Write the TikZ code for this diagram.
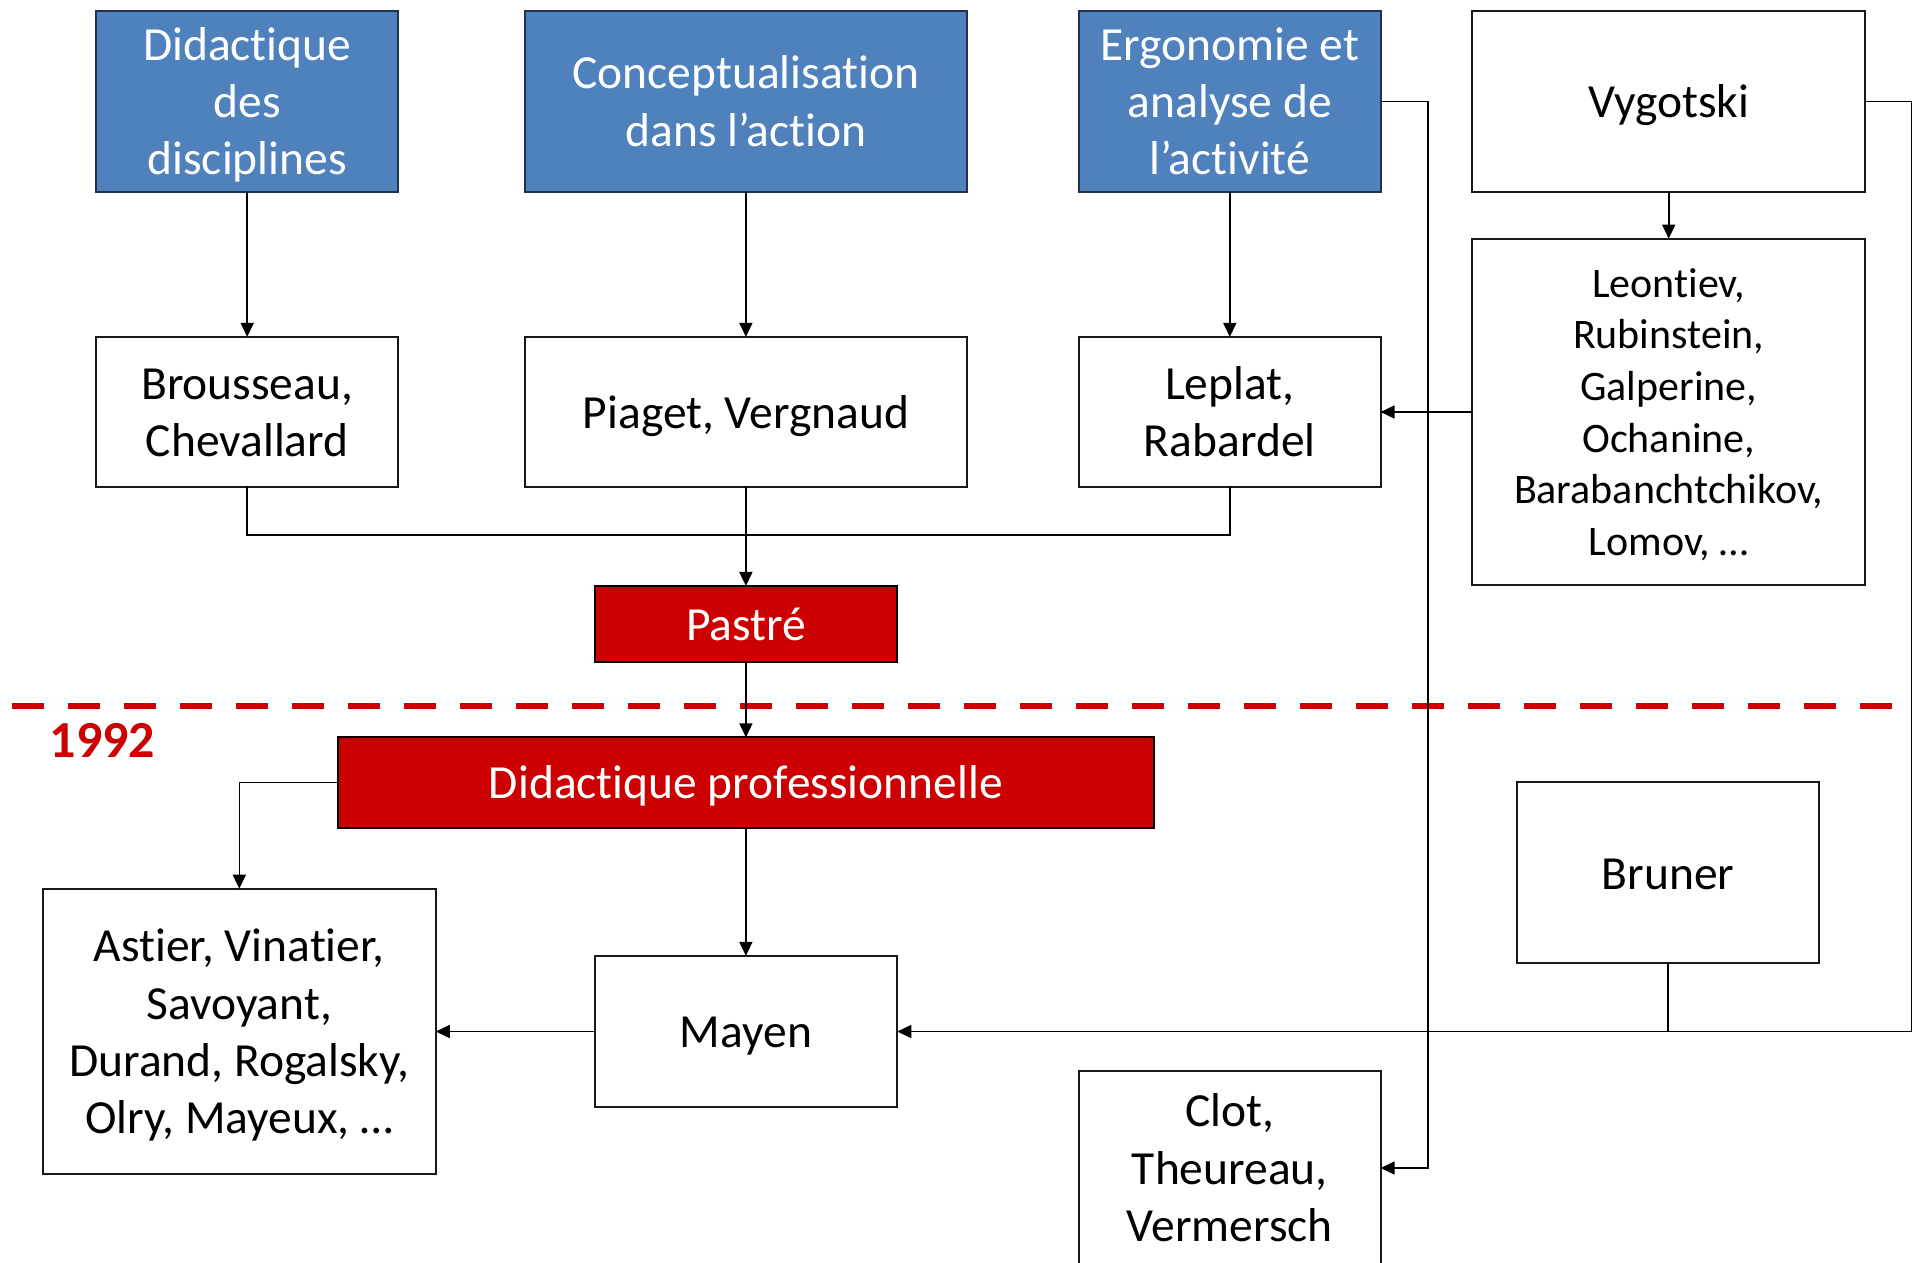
\documentclass[tikz,border=0pt]{standalone}
\usepackage{fontspec}
\setmainfont{Carlito}[Ligatures=NoCommon]
\usetikzlibrary{arrows.meta}
\definecolor{boxblue}{HTML}{4F81BD}
\definecolor{blueedge}{HTML}{1F3350}
\definecolor{boxred}{HTML}{CC0000}
\newcommand{\topstrut}{\rule{0pt}{0.952em}}
\newcommand{\botstrut}{\rule[-0.269em]{0pt}{0pt}}
\begin{document}
\begin{tikzpicture}[x=1pt,y=-1pt,
  every node/.style={align=center,inner sep=0pt,outer sep=0pt,font=\fontsize{47.5}{57.4}\selectfont},
  bluebox/.style={draw=blueedge,line width=2pt,fill=boxblue,text=white},
  redbox/.style={draw=black,line width=2pt,fill=boxred,text=white},
  whitebox/.style={draw=black!90,line width=2pt,fill=white},
  arr/.style={-{Triangle[length=14pt,width=13pt]},line width=1.6pt},
  link/.style={line width=1.6pt}]
\useasboundingbox (0,0) rectangle (1914,1262);
\fill[white] (0,0) rectangle (1914,1262);
\node[bluebox,minimum width=301.5pt,minimum height=180.7pt] (didac) at (247.2,101.3) {\topstrut Didactique\\des\\disciplines\botstrut};
\node[bluebox,minimum width=441.9pt,minimum height=180.7pt] (concept) at (745.9,101.3) {\topstrut Conceptualisation\\dans l’action\botstrut};
\node[bluebox,minimum width=301.5pt,minimum height=180.7pt] (ergo) at (1229.8,101.3) {\topstrut Ergonomie et\\analyse de\\l’activité\botstrut};
\node[whitebox,minimum width=393pt,minimum height=180.7pt] (vygotski) at (1668.7,101.3) {\topstrut Vygotski\botstrut};
\node[whitebox,minimum width=301.5pt,minimum height=150.2pt] (brousseau) at (247.2,412) {\topstrut Brousseau,\\Chevallard\botstrut};
\node[whitebox,minimum width=441.9pt,minimum height=150.2pt] (piaget) at (745.9,412) {\topstrut Piaget, Vergnaud\botstrut};
\node[whitebox,minimum width=301.5pt,minimum height=150.2pt] (leplat) at (1229.8,412) {\topstrut Leplat,\\Rabardel\botstrut};
\node[whitebox,minimum width=393pt,minimum height=346.7pt,font=\fontsize{42}{51.6}\selectfont] (leontiev) at (1668.7,412) {\topstrut Leontiev,\\Rubinstein,\\Galperine,\\Ochanine,\\Barabanchtchikov,\\Lomov, …\botstrut};
\node[redbox,minimum width=302.7pt,minimum height=75.7pt] (pastre) at (745.9,623.8) {\topstrut Pastré\botstrut};
\node[redbox,minimum width=815.4pt,minimum height=90.3pt] (didpro) at (745.9,782.5) {\topstrut Didactique professionnelle\botstrut};
\node[whitebox,minimum width=393pt,minimum height=285.6pt] (astier) at (239.3,1031.5) {\topstrut Astier, Vinatier,\\Savoyant,\\Durand, Rogalsky,\\Olry, Mayeux, …\botstrut};
\node[whitebox,minimum width=302.7pt,minimum height=151.4pt] (mayen) at (745.9,1031.5) {\topstrut Mayen\botstrut};
\node[whitebox,minimum width=301.5pt,minimum height=180.7pt] (bruner) at (1668,872.8) {\topstrut Bruner\botstrut};
\node[whitebox,minimum width=301.5pt,minimum height=195pt] (clot) at (1229.8,1168) {\topstrut Clot,\\Theureau,\\Vermersch\botstrut};
\node[text=boxred,font=\fontsize{52}{60}\selectfont\bfseries] (year) at (102.5,740) {1992};
\coordinate (join) at (745.9,534.7);
\draw[boxred,line width=6pt,dash pattern=on 32pt off 24pt] (12,705.6) -- (1894.5,705.6);
\draw[arr] (didac) -- (brousseau);
\draw[arr] (concept) -- (piaget);
\draw[arr] (ergo) -- (leplat);
\draw[arr] (vygotski) -- (leontiev);
\draw[arr] (leontiev) -- (leplat);
\draw[link] (brousseau.south) |- (join) -| (leplat.south);
\draw[arr] (piaget) -- (pastre);
\draw[arr] (pastre) -- (didpro);
\draw[arr] (didpro.west) -| (astier.north);
\draw[arr] (didpro) -- (mayen);
\draw[arr] (mayen) -- (astier);
\draw[link] (bruner.south) |- (mayen.east);
\draw[arr] (vygotski.east) -- ++(46.4,0) |- (mayen.east);
\draw[arr] (ergo.east) -- ++(47.6,0) |- (clot.east);
\end{tikzpicture}
\end{document}
